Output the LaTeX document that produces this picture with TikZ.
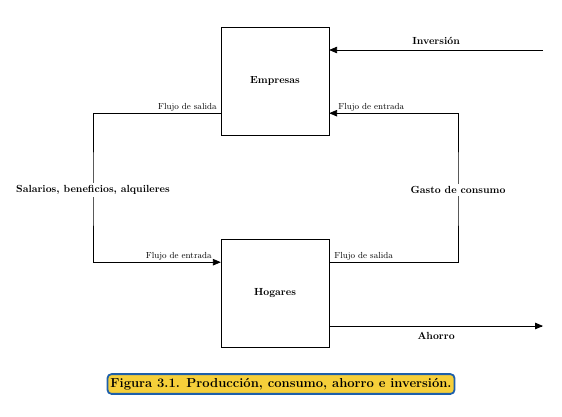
\documentclass[tikz,border=0pt]{standalone}
\usepackage{tikz}
\usetikzlibrary{positioning, arrows, calc}

\definecolor{pieamarillo}{HTML}{F6CF3A}
\definecolor{pieazul}{HTML}{1E5FAA}

\begin{document}
\begin{tikzpicture}[
            x=1pt, y=-1pt,
            caja/.style={
                    draw,
                    minimum width=108pt,
                    minimum height=108pt,
                    inner sep=0pt,
                    fill=white,
                    font=\fontsize{10.3}{12}\selectfont\bfseries
                },
            flecha/.style={
                    draw,
                    ->,
                    >={triangle 45},
                    line width=0.8pt
                },
            etiqueta/.style={
                    font=\fontsize{8.8}{10}\selectfont,
                    inner sep=1pt
                },
            rotulo/.style={
                    font=\fontsize{10.3}{12}\selectfont\bfseries,
                    fill=white,
                    inner sep=2pt
                },
            pie/.style={
                    draw=pieazul,
                    fill=pieamarillo,
                    line width=1.8pt,
                    rounded corners=4pt,
                    inner xsep=3pt,
                    inner ysep=4pt,
                    font=\fontsize{13}{15}\selectfont\bfseries
                }
        ]

        \useasboundingbox (0,0) rectangle (562,416);

        \node[caja] (empresas) at (275,81) {Empresas};
        \node[caja, below=104pt of empresas] (hogares) {Hogares};

        \coordinate (inv) at (543,50);
        \coordinate (aho) at (543,326);
        \coordinate (izq) at (93,190);
        \coordinate (der) at (458,190);

        % inversion y ahorro
        \draw[flecha] (inv) -- (empresas.east |- inv)
            node[rotulo, fill=none, above=3pt, pos=0.5] (inversion) {Inversión};
        \draw[flecha] (hogares.east |- aho) -- (aho)
            node[rotulo, fill=none, below=4pt, pos=0.5] (ahorro) {Ahorro};

        % circuito izquierdo
        \draw[flecha] ([yshift=22pt]empresas.south west) -| (izq) |- ([yshift=-23pt]hogares.north west);
        % circuito derecho
        \draw[flecha] ([yshift=-23pt]hogares.north east) -| (der) |- ([yshift=22pt]empresas.south east);

        \node[etiqueta, above left=1pt and 3pt of {[yshift=22pt]empresas.south west}] (fs1) {Flujo de salida};
        \node[etiqueta, above right=1pt and 8pt of {[yshift=22pt]empresas.south east}] (fe1) {Flujo de entrada};
        \node[etiqueta, above left=1pt and 8pt of {[yshift=-23pt]hogares.north west}] (fe2) {Flujo de entrada};
        \node[etiqueta, above right=1pt and 4pt of {[yshift=-23pt]hogares.north east}] (fs2) {Flujo de salida};

        \node[rotulo] (salarios) at (izq) {Salarios, beneficios, alquileres};
        \node[rotulo] (gasto) at (der) {Gasto de consumo};

        \node[pie] (figura) at (281,384) {Figura 3.1. Producción, consumo, ahorro e inversión.};

    \end{tikzpicture}
\end{document}
